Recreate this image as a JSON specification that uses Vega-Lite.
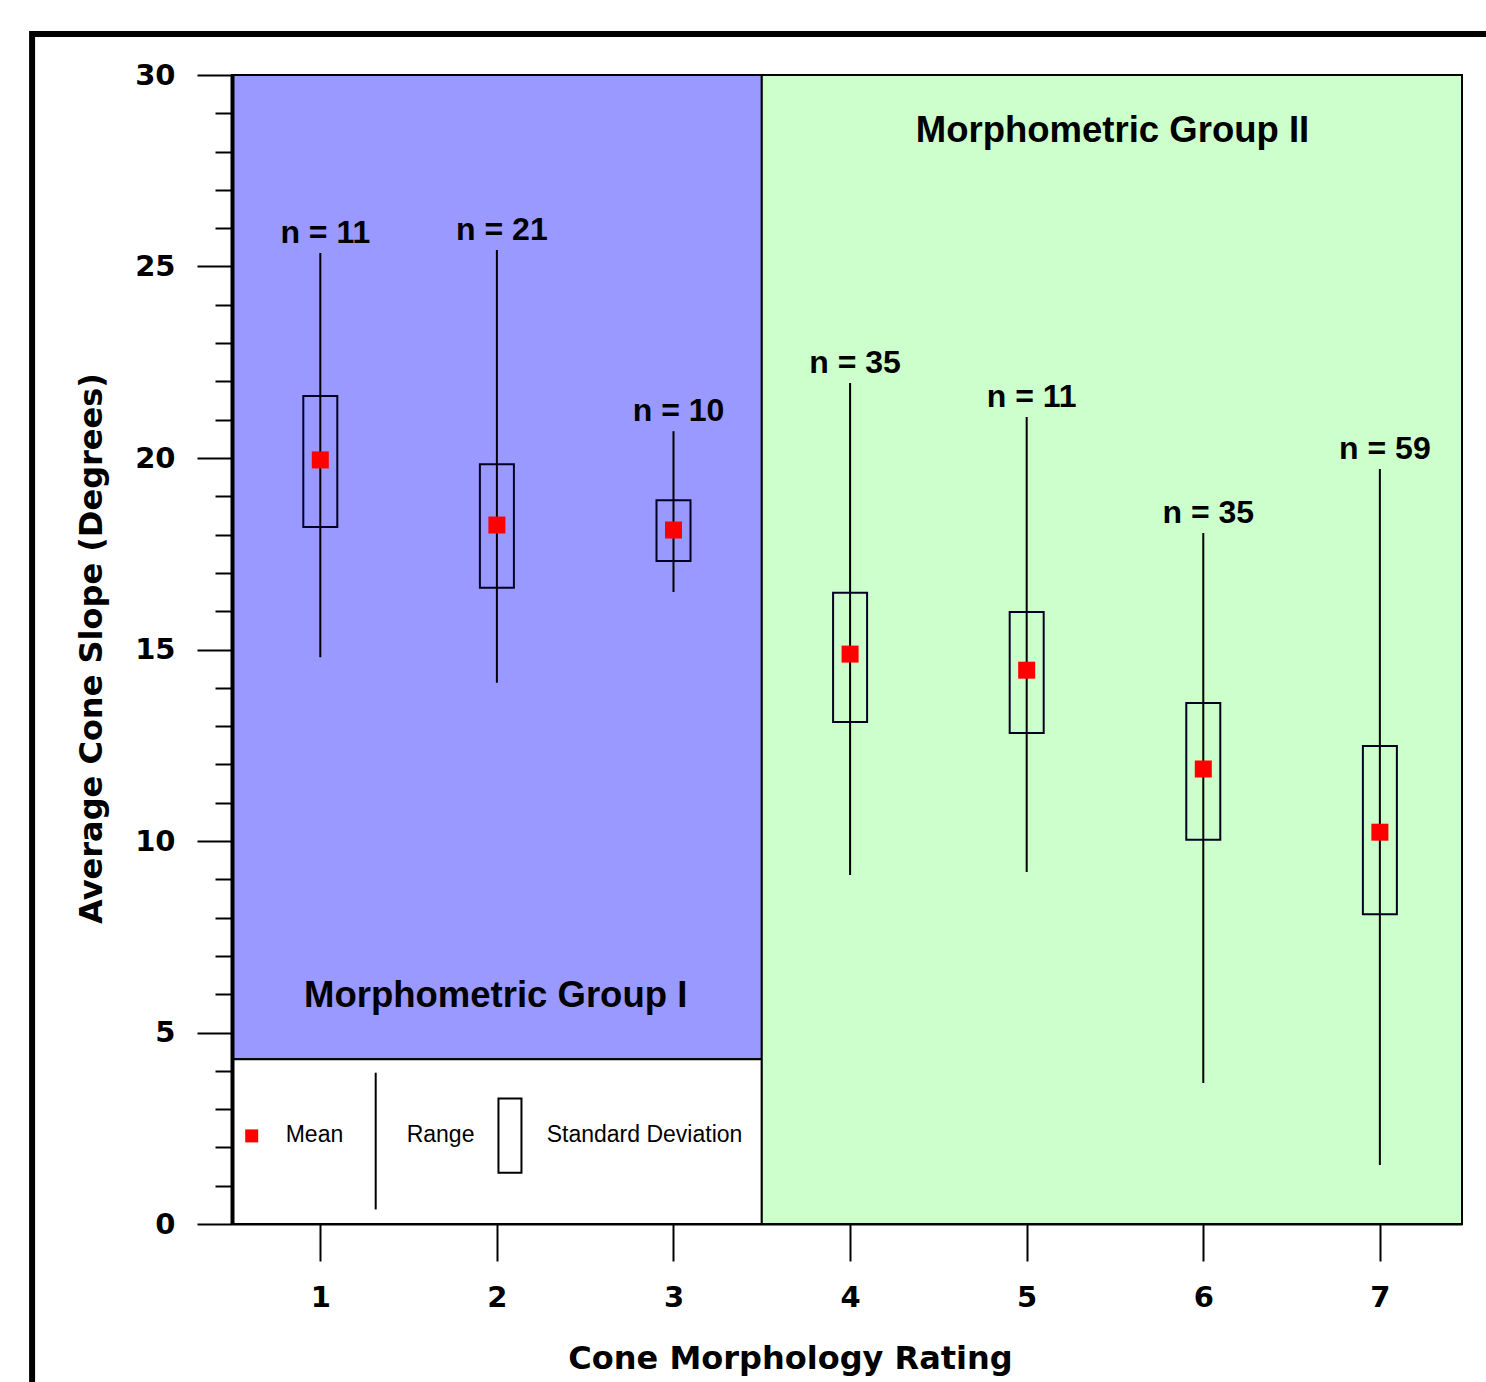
{
  "$schema": "https://vega.github.io/schema/vega-lite/v6.json",
  "width": 1230,
  "height": 1149,
  "autosize": {"type": "none"},
  "padding": {"left": 232, "top": 75, "right": 24, "bottom": 158},
  "background": "white",
  "config": {"view": {"stroke": null}, "font": "Liberation Sans"},
  "datasets": {
    "regions": [
      {"region": "Group I", "x0": 0.5, "x1": 3.5, "y0": 4.3, "y1": 30},
      {"region": "Legend", "x0": 0.5, "x1": 3.5, "y0": 0, "y1": 4.3},
      {"region": "Group II", "x0": 3.5, "x1": 7.465, "y0": 0, "y1": 30}
    ],
    "stats": [
      {"rating": 1, "min": 14.80, "max": 25.35, "sdLow": 18.20, "sdHigh": 21.62, "mean": 19.95, "label": "n = 11"},
      {"rating": 2, "min": 14.13, "max": 25.43, "sdLow": 16.61, "sdHigh": 19.84, "mean": 18.25, "label": "n = 21"},
      {"rating": 3, "min": 16.50, "max": 20.70, "sdLow": 17.31, "sdHigh": 18.90, "mean": 18.12, "label": "n = 10"},
      {"rating": 4, "min": 9.11, "max": 21.96, "sdLow": 13.11, "sdHigh": 16.48, "mean": 14.88, "label": "n = 35"},
      {"rating": 5, "min": 9.19, "max": 21.07, "sdLow": 12.82, "sdHigh": 15.98, "mean": 14.46, "label": "n = 11"},
      {"rating": 6, "min": 3.68, "max": 18.04, "sdLow": 10.03, "sdHigh": 13.60, "mean": 11.88, "label": "n = 35"},
      {"rating": 7, "min": 1.54, "max": 19.71, "sdLow": 8.09, "sdHigh": 12.48, "mean": 10.23, "label": "n = 59"}
    ],
    "frame": [{"x0": -0.632, "x1": 9, "y0": 31.07, "y1": -6}],
    "groups": [
      {"label": "Morphometric Group II", "x": 5.486, "y": 28.26},
      {"label": "Morphometric Group I", "x": 1.993, "y": 5.67}
    ],
    "legendMean": [{"x": 0.6116, "y": 2.30}],
    "legendRange": [{"x": 1.3137, "y0": 0.38, "y1": 3.95}],
    "legendSD": [{"x": 2.074, "y0": 1.34, "y1": 3.28}],
    "legendText": [
      {"label": "Mean", "x": 0.804, "y": 2.14},
      {"label": "Range", "x": 1.489, "y": 2.14},
      {"label": "Standard Deviation", "x": 2.282, "y": 2.14}
    ]
  },
  "layer": [
    {
      "data": {"name": "regions"},
      "mark": {"type": "rect", "stroke": "black", "strokeWidth": 2},
      "encoding": {
        "x": {
          "field": "x0", "type": "quantitative",
          "scale": {"domain": [0.5, 7.465], "nice": false, "zero": false, "padding": 0},
          "axis": {
            "values": [1, 2, 3, 4, 5, 6, 7],
            "tickCount": 7, "format": "d",
            "tickSize": 37, "tickWidth": 2, "tickColor": "black",
            "domainColor": "black", "domainWidth": 2,
            "labelFont": "DejaVu Sans", "labelFontWeight": "bold", "labelFontSize": 29,
            "labelColor": "black", "labelPadding": 22, "labelFlush": false,
            "grid": false,
            "title": "Cone Morphology Rating",
            "titleFont": "DejaVu Sans", "titleFontSize": 32, "titleFontWeight": "bold", "titleColor": "black",
            "titleX": 558, "titleY": 144, "titleBaseline": "alphabetic", "titleAlign": "center",
            "zindex": 1
          }
        },
        "x2": {"field": "x1"},
        "y": {
          "field": "y0", "type": "quantitative",
          "scale": {"domain": [0, 30], "nice": false, "padding": 0},
          "axis": {
            "values": [0,1,2,3,4,5,6,7,8,9,10,11,12,13,14,15,16,17,18,19,20,21,22,23,24,25,26,27,28,29,30],
            "tickCount": 31, "format": "d",
            "tickSize": 35,
            "tickDash": {"condition": {"test": "datum.value % 5 === 0", "value": [40, 1]}, "value": [17, 40]},
            "labelExpr": "datum.value % 5 === 0 ? datum.label : ''",
            "labelOverlap": false, "labelFlush": false,
            "tickWidth": 2, "tickColor": "black",
            "domainColor": "black", "domainWidth": 4,
            "labelFont": "DejaVu Sans", "labelFontWeight": "bold", "labelFontSize": 29,
            "labelColor": "black", "labelPadding": 22,
            "grid": false,
            "title": "Average Cone Slope (Degrees)",
            "titleFont": "DejaVu Sans", "titleFontSize": 32, "titleFontWeight": "bold", "titleColor": "black",
            "titleX": -131, "titleY": 573, "titleAngle": 270, "titleBaseline": "alphabetic", "titleAlign": "center",
            "zindex": 1
          }
        },
        "y2": {"field": "y1"},
        "color": {
          "field": "region", "type": "nominal",
          "scale": {"domain": ["Group I", "Legend", "Group II"], "range": ["#9999FF", "#FFFFFF", "#CCFFCC"]},
          "legend": null
        }
      }
    },
    {
      "data": {"name": "stats"},
      "mark": {"type": "rule", "stroke": "black", "strokeWidth": 2},
      "encoding": {
        "x": {"field": "rating", "type": "quantitative"},
        "y": {"field": "min", "type": "quantitative"},
        "y2": {"field": "max"}
      }
    },
    {
      "data": {"name": "stats"},
      "mark": {"type": "bar", "size": 34, "fill": "transparent", "stroke": "#000022", "strokeWidth": 2},
      "encoding": {
        "x": {"field": "rating", "type": "quantitative"},
        "y": {"field": "sdLow", "type": "quantitative"},
        "y2": {"field": "sdHigh"}
      }
    },
    {
      "data": {"name": "stats"},
      "mark": {"type": "square", "size": 289, "color": "#FF0000", "opacity": 1},
      "encoding": {
        "x": {"field": "rating", "type": "quantitative"},
        "y": {"field": "mean", "type": "quantitative"}
      }
    },
    {
      "data": {"name": "stats"},
      "mark": {"type": "text", "font": "Liberation Sans", "fontWeight": "bold", "fontSize": 32, "baseline": "alphabetic", "align": "center", "dy": -10, "dx": 5, "color": "black"},
      "encoding": {
        "x": {"field": "rating", "type": "quantitative"},
        "y": {"field": "max", "type": "quantitative"},
        "text": {"field": "label"}
      }
    },
    {
      "data": {"name": "groups"},
      "mark": {"type": "text", "font": "Liberation Sans", "fontWeight": "bold", "fontSize": 36.5, "baseline": "alphabetic", "align": "center", "color": "black"},
      "encoding": {
        "x": {"field": "x", "type": "quantitative"},
        "y": {"field": "y", "type": "quantitative"},
        "text": {"field": "label"}
      }
    },
    {
      "data": {"name": "legendMean"},
      "mark": {"type": "square", "size": 169, "color": "#FF0000", "opacity": 1},
      "encoding": {
        "x": {"field": "x", "type": "quantitative"},
        "y": {"field": "y", "type": "quantitative"}
      }
    },
    {
      "data": {"name": "legendRange"},
      "mark": {"type": "rule", "stroke": "black", "strokeWidth": 2},
      "encoding": {
        "x": {"field": "x", "type": "quantitative"},
        "y": {"field": "y0", "type": "quantitative"},
        "y2": {"field": "y1"}
      }
    },
    {
      "data": {"name": "legendSD"},
      "mark": {"type": "bar", "size": 23, "fill": "transparent", "stroke": "black", "strokeWidth": 2},
      "encoding": {
        "x": {"field": "x", "type": "quantitative"},
        "y": {"field": "y0", "type": "quantitative"},
        "y2": {"field": "y1"}
      }
    },
    {
      "data": {"name": "legendText"},
      "mark": {"type": "text", "font": "Liberation Sans", "fontSize": 23, "baseline": "alphabetic", "align": "left", "color": "black"},
      "encoding": {
        "x": {"field": "x", "type": "quantitative"},
        "y": {"field": "y", "type": "quantitative"},
        "text": {"field": "label"}
      }
    },
    {
      "data": {"name": "frame"},
      "mark": {"type": "rect", "fill": "transparent", "stroke": "black", "strokeWidth": 6},
      "encoding": {
        "x": {"field": "x0", "type": "quantitative"},
        "x2": {"field": "x1"},
        "y": {"field": "y0", "type": "quantitative"},
        "y2": {"field": "y1"}
      }
    }
  ]
}
